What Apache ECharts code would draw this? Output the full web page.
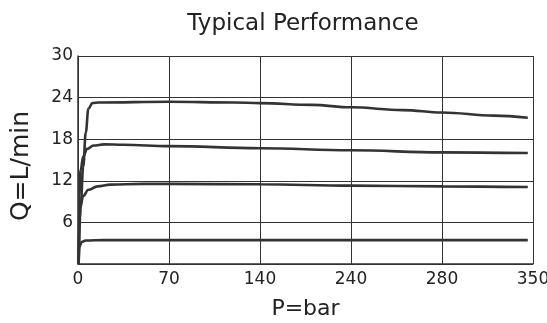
<!DOCTYPE html>
<html lang="en">
<head>
    <meta charset="UTF-8">
    <title>Typical Performance</title>
    <script type="text/javascript" src="https://cdn.jsdelivr.net/npm/echarts@6/dist/echarts.min.js"></script>
    <style>
        html, body { margin: 0; padding: 0; background: #fff; }
    </style>
</head>
<body>
<div id="main" style="width:547px;height:323px;"></div>
<script>
    // tick labels on the x axis (evenly spaced, labelled as in the datasheet)
    const xTickLabels = ['0', '70', '140', '240', '280', '350'];
    const yTicks = [0, 6, 12, 18, 24, 30];

    // curves, [position on x axis, flow L/min]
    const curve24 = [[0.5, 0], [2, 8], [4, 14], [6, 19], [8, 22.4], [11, 23.2], [16, 23.3], [70, 23.4], [120, 23.3], [140, 23.2], [180, 22.95], [210, 22.6], [250, 22.2], [280, 21.85], [320, 21.4], [346, 21.1]];
    const curve18 = [[0.5, 0], [1, 10], [2, 13.5], [4, 15.5], [7, 16.6], [12, 17.1], [20, 17.25], [35, 17.2], [70, 17.0], [140, 16.7], [210, 16.4], [280, 16.1], [346, 16.0]];
    const curve12 = [[0.5, 0], [1, 6], [2, 8.5], [4, 9.8], [8, 10.7], [15, 11.2], [25, 11.45], [50, 11.55], [70, 11.55], [140, 11.5], [210, 11.3], [280, 11.2], [346, 11.1]];
    const curve6 = [[0.5, 0], [1, 2.5], [3, 3.2], [6, 3.4], [20, 3.45], [346, 3.45]];

    const font = 'DejaVu Sans';
    const lineCol = '#333';
    const textCol = '#222';

    function makeSeries(data) {
        return {
            type: 'line',
            data: data,
            smooth: 0.4,
            smoothMonotone: 'x',
            showSymbol: false,
            lineStyle: { color: lineCol, width: 2.6 },
            silent: true
        };
    }

    let myChart = echarts.init(document.getElementById('main'));
    let option = {
        animation: false,
        backgroundColor: '#fff',
        title: {
            text: 'Typical Performance',
            left: 298,
            top: 8,
            textAlign: 'center',
            textStyle: { fontFamily: font, fontSize: 23, fontWeight: 'normal', color: textCol }
        },
        grid: { left: 78, right: 14, top: 56, bottom: 59, outerBoundsMode: 'none' },
        xAxis: {
            type: 'value',
            min: 0, max: 350, interval: 70,
            name: 'P=bar',
            nameLocation: 'middle',
            nameGap: 34,
            nameTextStyle: { fontFamily: font, fontSize: 22, color: textCol },
            axisLine: { lineStyle: { color: lineCol, width: 1.5 } },
            axisTick: { show: false },
            axisLabel: {
                fontFamily: font, fontSize: 17, color: textCol, margin: 7,
                formatter: v => xTickLabels[Math.round(v / 70)]
            },
            splitLine: { show: true, lineStyle: { color: lineCol, width: 1 } }
        },
        yAxis: {
            type: 'value',
            min: 0, max: 30, interval: 6,
            name: 'Q=L/min',
            nameLocation: 'middle',
            nameGap: 44,
            nameTextStyle: { fontFamily: font, fontSize: 25, color: textCol, padding: [0, 12, 0, 0] },
            axisLine: { show: true, lineStyle: { color: lineCol, width: 1.5 } },
            axisTick: { show: false },
            axisLabel: {
                fontFamily: font, fontSize: 17, color: textCol, margin: 5,
                formatter: v => (v === 0 ? '' : String(v))
            },
            splitLine: { show: true, lineStyle: { color: lineCol, width: 1 } }
        },
        series: [makeSeries(curve24), makeSeries(curve18), makeSeries(curve12), makeSeries(curve6)]
    };
    myChart.setOption(option);
</script>
</body>
</html>
